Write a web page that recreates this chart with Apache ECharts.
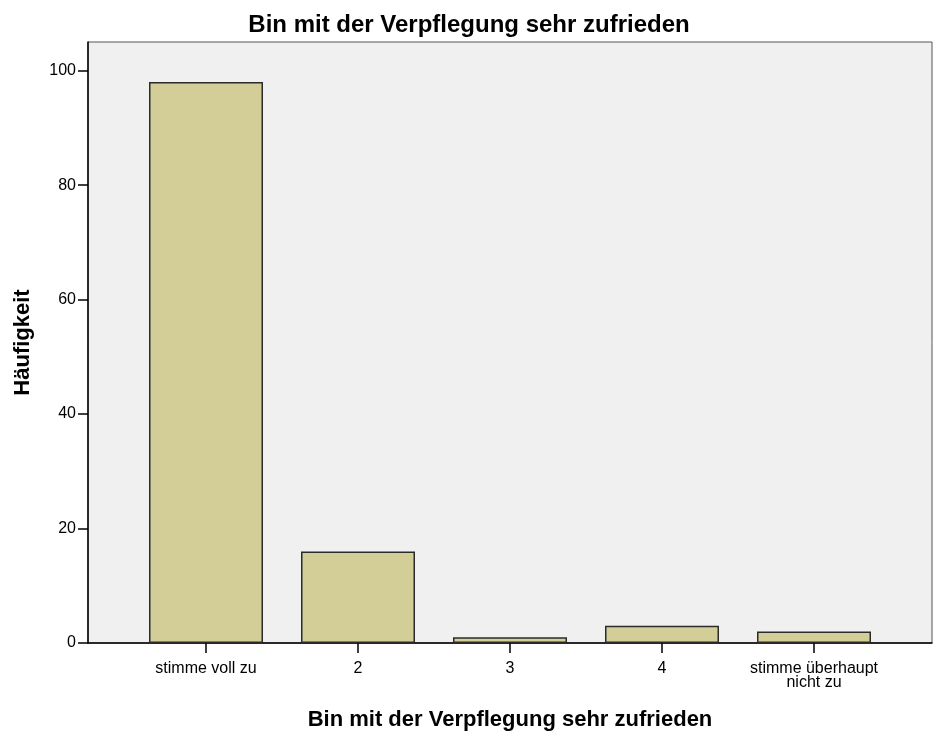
<!DOCTYPE html>
<html>
<head>
<meta charset="utf-8">
<script src="https://cdn.jsdelivr.net/npm/echarts@6/dist/echarts.min.js"></script>
<style>
  html, body { margin: 0; padding: 0; background: #fff; }
  #chart { width: 938px; height: 731px; }
</style>
</head>
<body>
<div id="chart"></div>
<script>
// data
const categories = ['stimme voll zu', '2', '3', '4', 'stimme überhaupt\nnicht zu']
const counts = [98, 16, 1, 3, 2]
const yTicks = [0, 20, 40, 60, 80, 100]
const yMax = 105

const font = 'Liberation Sans, Arial, sans-serif'

const chart = echarts.init(document.getElementById('chart'))
const option = {
    animation: false,
    backgroundColor: '#ffffff',
    title: {
        text: 'Bin mit der Verpflegung sehr zufrieden',
        left: 'center',
        top: 8,
        textStyle: {fontFamily: font, fontSize: 24, fontWeight: 'bold', color: '#000'}
    },
    grid: [
        // frame + y axis
        {left: 88, right: 6, top: 42, bottom: 88, show: true, outerBoundsMode: 'none',
         backgroundColor: '#f0f0f0', borderColor: '#555', borderWidth: 1},
        // bars, inset like SPSS
        {left: 130, right: 48, top: 42, bottom: 88, outerBoundsMode: 'none'}
    ],
    xAxis: [
        {
            type: 'category', gridIndex: 0, data: ['x'],
            axisLine: {lineStyle: {color: '#000', width: 1.5}},
            axisTick: {show: false}, axisLabel: {show: false},
            name: 'Bin mit der Verpflegung sehr zufrieden',
            nameLocation: 'middle', nameGap: 66,
            nameTextStyle: {fontFamily: font, fontSize: 22, fontWeight: 'bold', color: '#000'}
        },
        {
            type: 'category', gridIndex: 1, data: categories,
            axisLine: {show: false},
            axisTick: {show: true, alignWithLabel: true, length: 10, lineStyle: {color: '#000', width: 1.5}},
            axisLabel: {interval: 0, fontFamily: font, fontSize: 16, lineHeight: 14, color: '#000', margin: 19}
        }
    ],
    yAxis: [
        {
            type: 'value', gridIndex: 0, min: 0, max: yMax,
            axisLine: {show: true, lineStyle: {color: '#000', width: 1.5}},
            axisTick: {show: true, length: 10, customValues: yTicks, lineStyle: {color: '#000', width: 1.5}},
            axisLabel: {customValues: yTicks, fontFamily: font, fontSize: 16, color: '#000', margin: 12},
            splitLine: {show: false},
            name: 'Häufigkeit', nameLocation: 'middle', nameGap: 54,
            nameTextStyle: {fontFamily: font, fontSize: 22, fontWeight: 'bold', color: '#000'}
        },
        {
            type: 'value', gridIndex: 1, min: 0, max: yMax, show: false
        }
    ],
    series: [
        {
            type: 'bar', xAxisIndex: 1, yAxisIndex: 1,
            data: counts, barWidth: '75%',
            itemStyle: {color: '#d3ce97', borderColor: '#2b2b2b', borderWidth: 1.5}
        }
    ]
}
chart.setOption(option)
</script>
</body>
</html>
